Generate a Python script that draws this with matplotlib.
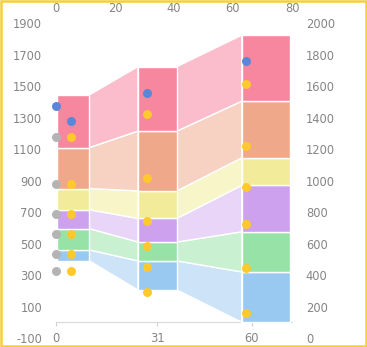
import numpy as np
import matplotlib
matplotlib.use('Agg')
import matplotlib.pyplot as plt
from matplotlib.patches import Rectangle

plt.rcParams['axes.unicode_minus'] = False

# stacked blocks: left/right edge on the top scale, base value, segment sizes (bottom -> top)
block_left = [0.5, 27.8, 63.0]
block_right = [11.3, 41.0, 79.2]
block_base = [390, 205, 0]
seg_blue = [70, 185, 320]
seg_green = [135, 120, 255]
seg_purple = [120, 150, 295]
seg_yellow = [135, 175, 175]
seg_orange = [260, 380, 360]
seg_pink = [335, 410, 420]

# markers (top scale x, right scale y)
gray_x = [0, 0, 0, 0, 0, 0]
gray_y = [1278, 976, 785, 658, 531, 425]
blue_x = [0, 5, 31, 64.5]
blue_y = [1475, 1378, 1560, 1759]
yellow_x = [5] * 6 + [31] * 6 + [64.5] * 6
yellow_y = [1278, 976, 785, 658, 531, 425,
            1422, 1020, 745, 584, 449, 292,
            1617, 1221, 961, 724, 446, 161]

bottom_ticks = [0, 31, 60]

seg_colors = ['#99C9F1', '#97E2A6', '#CDA1EE', '#F2EC9A', '#EFA98A', '#F7879F']
band_colors = ['#CDE4F8', '#C8F0D1', '#E8D5F7', '#F8F5C9', '#F7D2C2', '#FBBDCB']
txt = '#858585'

fig = plt.figure(figsize=(3.67, 3.47), dpi=100)
ax = fig.add_axes([56 / 367, 9 / 347, 236 / 367, 314.7 / 347])
ax.set_xlim(0, 80)
ax.set_ylim(-100, 1900)

segs = [seg_blue, seg_green, seg_purple, seg_yellow, seg_orange, seg_pink]
lefts = np.array(block_left)
rights = np.array(block_right)
lower = np.array(block_base, dtype=float)
for seg, c, bc in zip(segs, seg_colors, band_colors):
    upper = lower + np.array(seg)
    ax.bar(lefts, seg, width=rights - lefts, bottom=lower, align='edge',
           color=c, edgecolor='white', linewidth=1.0, zorder=2)
    # connecting bands between neighbouring blocks
    for i in range(len(lefts) - 1):
        xs = [rights[i], rights[i], lefts[i + 1], lefts[i + 1]]
        ys = [lower[i], upper[i], upper[i + 1], lower[i + 1]]
        ax.fill(xs, ys, color=bc, edgecolor='white', linewidth=1.0, zorder=1)
    lower = upper

for s in ax.spines.values():
    s.set_visible(False)
ax.xaxis.tick_top()
ax.set_xticks(np.arange(0, 81, 20))
ax.set_yticks(np.arange(-100, 1901, 200))
ax.tick_params(axis='both', length=0, labelsize=8.3, labelcolor=txt)
ax.tick_params(axis='y', pad=10)
ax.tick_params(axis='x', pad=6)

# bottom category axis sitting on the zero line
k = 60 / (252 - 55.7) * (236.6 / 80)
sec = ax.secondary_xaxis(0.05, functions=(lambda x: x * k, lambda x: x / k))
sec.set_xticks(bottom_ticks)
sec.tick_params(length=3, width=0.8, color='#D0D0D0', labelsize=8.3,
                labelcolor=txt, pad=4)
sec.spines['bottom'].set_color('#D9D9D9')
sec.spines['bottom'].set_linewidth(0.8)

axr = ax.twinx()
axr.set_ylim(0, 2000)
axr.set_yticks(np.arange(0, 2001, 200))
axr.tick_params(axis='y', length=0, labelsize=8.3, labelcolor=txt, pad=10)
for s in axr.spines.values():
    s.set_visible(False)

ms = 42
axr.scatter(gray_x, gray_y, s=ms, color='#B4B4B4', zorder=5, clip_on=False, linewidths=0)
axr.scatter(blue_x, blue_y, s=ms, color='#5B87D8', zorder=5, clip_on=False, linewidths=0)
axr.scatter(yellow_x, yellow_y, s=ms, color='#FFC82C', zorder=5, clip_on=False, linewidths=0)

fig.patches.append(Rectangle((0.003, 0.003), 0.994, 0.994, transform=fig.transFigure,
                             fill=False, edgecolor='#F5CF35', linewidth=1.8))

fig.savefig('out.png', dpi=100)
